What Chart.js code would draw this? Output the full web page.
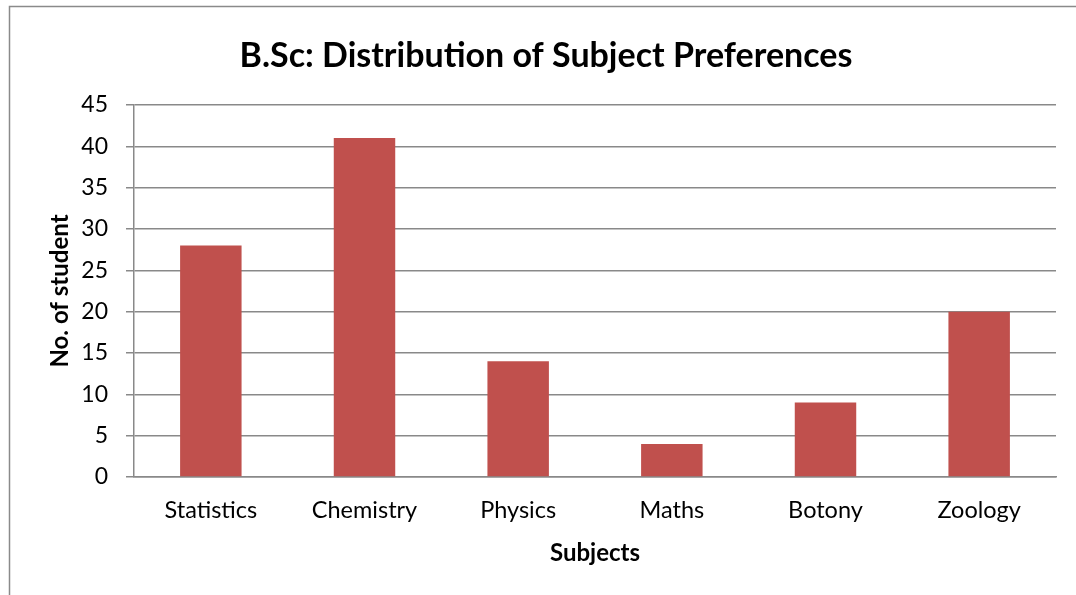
<!DOCTYPE html>
<html>
<head>
<meta charset="utf-8">
<script src="https://cdn.jsdelivr.net/npm/chart.js@4"></script>
<style>
  html, body { margin: 0; padding: 0; background: #fff; }
  #wrap { width: 1076px; height: 595px; }
</style>
</head>
<body>
<div id="wrap"><canvas id="myChart"></canvas></div>
<script>
const subjects = ['Statistics', 'Chemistry', 'Physics', 'Maths', 'Botony', 'Zoology'];
const students = [28, 41, 14, 4, 9, 20];
const yMin = 0, yMax = 45, yStep = 5;

const gridGray = '#898989';
const fontName = 'Lato, "Open Sans", sans-serif';

// outer frame, like the office chart border
const framePlugin = {
    id: 'frame',
    beforeDraw(chart) {
        const ctx = chart.ctx;
        ctx.save();
        ctx.strokeStyle = '#8a8a8a';
        ctx.lineWidth = 1.5;
        ctx.strokeRect(9.5, 6.5, 3000, 3000);
        ctx.restore();
    }
};

Chart.defaults.font.family = fontName;
Chart.defaults.color = '#000';

new Chart(document.getElementById('myChart').getContext('2d'), {
    type: 'bar',
    data: {
        labels: subjects,
        datasets: [{
            data: students,
            backgroundColor: '#C0504D',
            borderWidth: 0,
            barPercentage: 0.4,
            categoryPercentage: 1.0
        }]
    },
    options: {
        responsive: true,
        maintainAspectRatio: false,
        animation: false,
        // left padding keeps the title centred where the original has it
        layout: { padding: { right: 20, top: 0, left: 36, bottom: 0 } },
        plugins: {
            legend: { display: false },
            tooltip: { enabled: false },
            title: {
                display: true,
                text: 'B.Sc: Distribution of Subject Preferences',
                font: { size: 34, weight: 'bold' },
                color: '#000',
                padding: { top: 35.6, bottom: 28.6 }
            }
        },
        scales: {
            x: {
                grid: { display: false },
                border: { display: true, color: gridGray, width: 1.5 },
                ticks: { font: { size: 23.5 }, padding: 11, maxRotation: 0 },
                title: {
                    display: true,
                    text: 'Subjects',
                    font: { size: 24, weight: 'bold' },
                    padding: { top: 0, bottom: 27.6 }
                },
                afterFit(scale) { scale.height = 118; }
            },
            y: {
                min: yMin,
                max: yMax,
                grid: { color: gridGray, lineWidth: 1.5, tickLength: 8 },
                border: { display: true, color: gridGray, width: 1.5 },
                ticks: { stepSize: yStep, font: { size: 23 }, padding: 18 },
                title: {
                    display: true,
                    text: 'No. of student',
                    font: { size: 24, weight: 'bold' },
                    padding: { top: 9.6, bottom: 0 }
                },
                afterFit(scale) { scale.width = 98; }
            }
        }
    },
    plugins: [framePlugin]
});
</script>
</body>
</html>
